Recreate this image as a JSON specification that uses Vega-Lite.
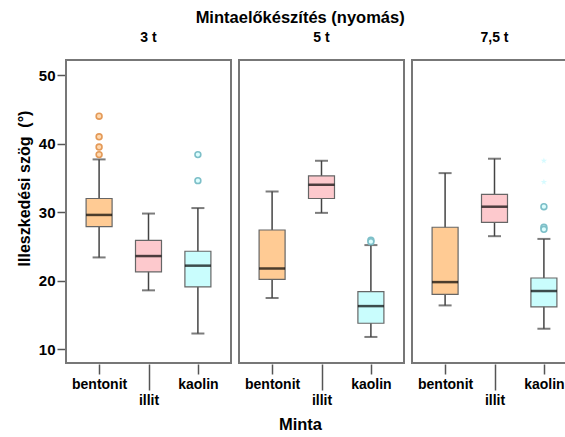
{
  "$schema": "https://vega.github.io/schema/vega-lite/v6.json",
  "background": "white",
  "padding": {"left": 16, "top": 9, "right": 0, "bottom": 2},
  "title": {"text": "Mintaelőkészítés (nyomás)", "font": "Liberation Sans", "fontSize": 16.5, "fontWeight": "bold", "color": "black", "anchor": "middle", "offset": 5, "dx": 3},
  "data": {"values": [
    {"p": "3 t", "minta": "bentonit", "kind": "box", "lo": 23.4, "q1": 27.9, "med": 29.6, "q3": 32.0, "hi": 37.7},
    {"p": "3 t", "minta": "illit", "kind": "box", "lo": 18.6, "q1": 21.3, "med": 23.6, "q3": 25.9, "hi": 29.8},
    {"p": "3 t", "minta": "kaolin", "kind": "box", "lo": 12.3, "q1": 19.1, "med": 22.2, "q3": 24.3, "hi": 30.6},
    {"p": "5 t", "minta": "bentonit", "kind": "box", "lo": 17.5, "q1": 20.2, "med": 21.8, "q3": 27.4, "hi": 33.0},
    {"p": "5 t", "minta": "illit", "kind": "box", "lo": 29.9, "q1": 32.0, "med": 34.0, "q3": 35.3, "hi": 37.5},
    {"p": "5 t", "minta": "kaolin", "kind": "box", "lo": 11.8, "q1": 13.8, "med": 16.3, "q3": 18.4, "hi": 25.2},
    {"p": "7,5 t", "minta": "bentonit", "kind": "box", "lo": 16.4, "q1": 18.0, "med": 19.8, "q3": 27.8, "hi": 35.7},
    {"p": "7,5 t", "minta": "illit", "kind": "box", "lo": 26.5, "q1": 28.5, "med": 30.8, "q3": 32.6, "hi": 37.8},
    {"p": "7,5 t", "minta": "kaolin", "kind": "box", "lo": 13.0, "q1": 16.2, "med": 18.5, "q3": 20.4, "hi": 26.1},
    {"p": "3 t", "minta": "bentonit", "kind": "out", "val": 44.0},
    {"p": "3 t", "minta": "bentonit", "kind": "out", "val": 41.0},
    {"p": "3 t", "minta": "bentonit", "kind": "out", "val": 39.5},
    {"p": "3 t", "minta": "bentonit", "kind": "out", "val": 38.4},
    {"p": "3 t", "minta": "kaolin", "kind": "out", "val": 38.4},
    {"p": "3 t", "minta": "kaolin", "kind": "out", "val": 34.6},
    {"p": "5 t", "minta": "kaolin", "kind": "out", "val": 25.9},
    {"p": "5 t", "minta": "kaolin", "kind": "out", "val": 25.7},
    {"p": "7,5 t", "minta": "kaolin", "kind": "out", "val": 30.8},
    {"p": "7,5 t", "minta": "kaolin", "kind": "out", "val": 27.8},
    {"p": "7,5 t", "minta": "kaolin", "kind": "out", "val": 27.5},
    {"p": "7,5 t", "minta": "kaolin", "kind": "star", "val": 37.5},
    {"p": "7,5 t", "minta": "kaolin", "kind": "star", "val": 34.4}
  ]},
  "facet": {
    "column": {
      "field": "p", "type": "nominal", "sort": ["3 t", "5 t", "7,5 t"], "title": "Minta",
      "header": {
        "labelOrient": "top", "titleOrient": "bottom",
        "labelFont": "Liberation Sans", "labelFontSize": 14, "labelFontWeight": "bold", "labelColor": "black", "labelPadding": 14,
        "titleFont": "Liberation Sans", "titleFontSize": 16.5, "titleFontWeight": "bold", "titleColor": "black", "titlePadding": 0,
        "titleAlign": "right"
      }
    }
  },
  "spacing": 6,
  "spec": {
    "width": 165,
    "height": 303,
    "encoding": {
      "x": {
        "field": "minta", "type": "nominal", "sort": ["bentonit", "illit", "kaolin"],
        "scale": {"type": "point", "padding": 0.67},
        "axis": {
          "title": null, "labelAngle": 0, "domain": false,
          "labelFont": "Liberation Sans", "labelFontSize": 14, "labelFontWeight": "bold", "labelColor": "black",
          "tickColor": "#555", "tickWidth": 1.5,
          "tickSize": {"condition": {"test": "datum.value === 'illit'", "value": 26}, "value": 10},
          "labelPadding": 3
        }
      }
    },
    "layer": [
      {
        "transform": [{"filter": "datum.kind === 'box'"}],
        "mark": {"type": "rule", "color": "#444", "strokeWidth": 1.5},
        "encoding": {
          "y": {"field": "lo", "type": "quantitative", "scale": {"domain": [8, 52.2], "nice": false, "zero": false},
                "axis": {"title": "Illeszkedési szög\u00a0\u00a0(°)", "values": [10, 20, 30, 40, 50], "grid": false, "domain": false,
                         "labelFont": "Liberation Sans", "labelFontSize": 15, "labelFontWeight": "bold", "labelColor": "black",
                         "tickColor": "#555", "tickWidth": 1.5, "tickSize": 8, "labelPadding": 2,
                         "titleFont": "Liberation Sans", "titleFontSize": 16, "titleFontWeight": "bold", "titleColor": "black", "titlePadding": 6,
                         "titleY": 128}},
          "y2": {"field": "hi"}
        }
      },
      {
        "transform": [{"filter": "datum.kind === 'box'"}],
        "mark": {"type": "tick", "color": "#444", "size": 13, "thickness": 2},
        "encoding": {"y": {"field": "lo", "type": "quantitative"}}
      },
      {
        "transform": [{"filter": "datum.kind === 'box'"}],
        "mark": {"type": "tick", "color": "#444", "size": 13, "thickness": 2},
        "encoding": {"y": {"field": "hi", "type": "quantitative"}}
      },
      {
        "transform": [{"filter": "datum.kind === 'box'"}],
        "mark": {"type": "bar", "size": 26, "stroke": "#666", "strokeWidth": 1.2},
        "encoding": {
          "y": {"field": "q1", "type": "quantitative"},
          "y2": {"field": "q3"},
          "color": {"field": "minta", "type": "nominal", "legend": null,
                    "scale": {"domain": ["bentonit", "illit", "kaolin"], "range": ["#FFCB94", "#FDC9CD", "#C9FDFD"]}}
        }
      },
      {
        "transform": [{"filter": "datum.kind === 'box'"}],
        "mark": {"type": "tick", "color": "black", "size": 26, "thickness": 2.5},
        "encoding": {"y": {"field": "med", "type": "quantitative"}}
      },
      {
        "transform": [{"filter": "datum.kind === 'out'"}],
        "mark": {"type": "point", "shape": "circle", "size": 34, "strokeWidth": 1.6, "opacity": 1},
        "encoding": {
          "y": {"field": "val", "type": "quantitative"},
          "fill": {"field": "minta", "type": "nominal", "legend": null,
                   "scale": {"domain": ["bentonit", "illit", "kaolin"], "range": ["#FFD9B0", "#FDD9DC", "#DDFEFE"]}},
          "stroke": {"field": "minta", "type": "nominal", "legend": null,
                     "scale": {"domain": ["bentonit", "illit", "kaolin"], "range": ["#E49A58", "#E0A0A8", "#7DBFC8"]}}
        }
      },
      {
        "transform": [{"filter": "datum.kind === 'star'"}],
        "mark": {"type": "point", "filled": true, "size": 45, "color": "#D6FBFF", "opacity": 1,
                 "shape": "M0,-1L0.2245,-0.309L0.9511,-0.309L0.3633,0.118L0.5878,0.809L0,0.382L-0.5878,0.809L-0.3633,0.118L-0.9511,-0.309L-0.2245,-0.309Z"},
        "encoding": {"y": {"field": "val", "type": "quantitative"}}
      }
    ]
  },
  "config": {
    "font": "Liberation Sans",
    "view": {"stroke": "#777", "strokeWidth": 2}
  }
}
